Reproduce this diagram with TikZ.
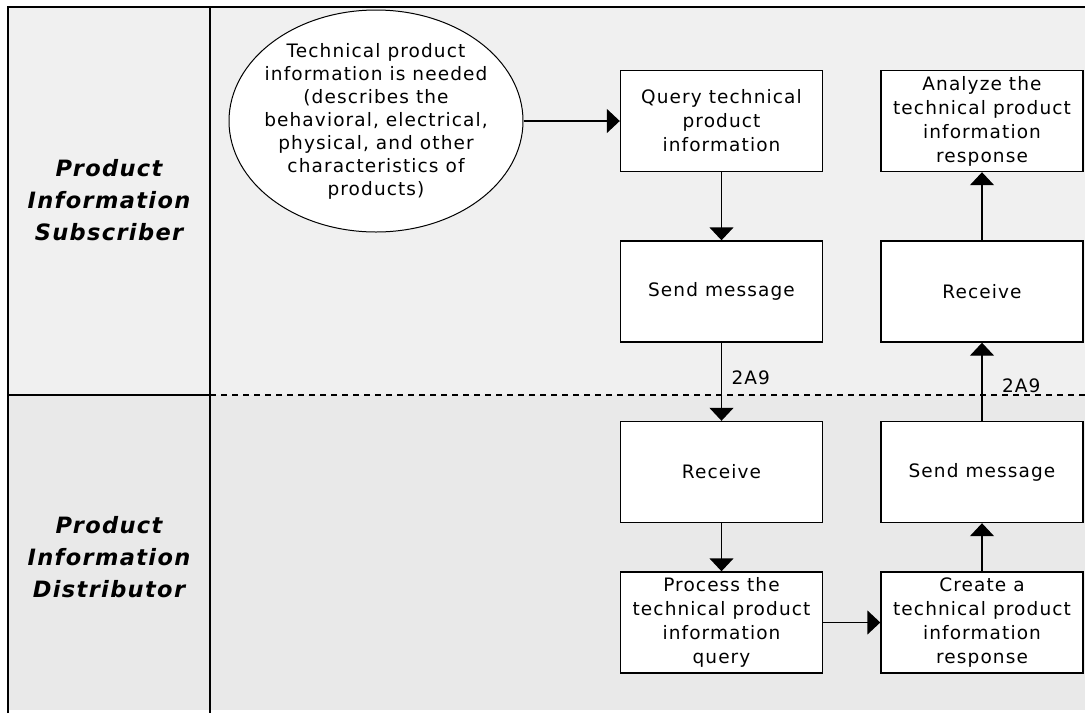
\documentclass[tikz,border=0pt]{standalone}
\usepackage{fontspec}
\setmainfont{DejaVu Sans}[LetterSpace=6]
\usepackage{tikz}
\usetikzlibrary{arrows.meta,shapes.geometric,positioning}

\definecolor{laneA}{HTML}{F0F0F0}
\definecolor{laneB}{HTML}{E9E9E9}

\begin{document}
\begin{tikzpicture}[x=1pt,y=-1pt,
    box/.style={draw, fill=white, line width=1.4pt, minimum width=202pt, minimum height=101pt, inner sep=2pt, align=center, font=\fontsize{18.5}{24}\selectfont},
    oval/.style={ellipse, draw, fill=white, line width=1pt, minimum width=294pt, minimum height=222pt, inner xsep=-22pt, inner ysep=-2pt, align=center, font=\fontsize{18.5}{23}\selectfont},
    lane/.style={align=center, font=\fontsize{22.5}{32}\selectfont\bfseries\itshape},
    msg/.style={font=\fontsize{18.5}{20}\selectfont},
    flow/.style={line width=1.4pt, -{Triangle[width=24pt,length=13pt]}},
    >=Stealth]
    \useasboundingbox (0,0) rectangle (1085,713);
    % swimlanes
    \fill[laneA] (8,7) rectangle (1085,395);
    \fill[laneB] (8,395) rectangle (1085,710);
    \draw[line width=1.6pt] (8,713) -- (8,7) -- (1085,7);
    \draw[line width=1.6pt] (210,7) -- (210,713);
    \draw[line width=1.6pt] (8,395) -- (210,395);
    \draw[line width=1.2pt, dash pattern=on 6pt off 5pt] (210,395) -- (1085,395);
    \node[lane] (subscriber) at (109,200) {Product\\Information\\Subscriber};
    \node[lane] (distributor) at (109,557) {Product\\Information\\Distributor};

    % subscriber lane
    \node[oval] (need) at (376,121) {Technical product\\information is needed\\(describes the\\behavioral, electrical,\\physical, and other\\characteristics of\\products)};
    \node[box] (query) at (721.5,121) {Query technical\\product\\information};
    \node[box] (sendS) at (721.5,291.5) {Send message};
    \node[box] (analyze) at (982,121) {Analyze the\\technical product\\information\\response};
    \node[box] (recvS) at (982,291.5) {Receive};

    % distributor lane
    \node[box] (recvD) at (721.5,472) {Receive};
    \node[box] (process) at (721.5,622.5) {Process the\\technical product\\information\\query};
    \node[box] (sendD) at (982,472) {Send message};
    \node[box] (create) at (982,622.5) {Create a\\technical product\\information\\response};

    \draw[flow] (need.east) -- (query.west);
    \draw[flow] (query) -- (sendS);
    \draw[flow] (sendS) -- node[msg, right, xshift=6pt, pos=0.45] {2A9} (recvD);
    \draw[flow] (recvD) -- (process);
    \draw[flow] (process) -- (create);
    \draw[flow] (create) -- (sendD);
    \draw[flow] (sendD) -- node[msg, right, xshift=16pt, pos=0.45] {2A9} (recvS);
    \draw[flow] (recvS) -- (analyze);
\end{tikzpicture}
\end{document}
